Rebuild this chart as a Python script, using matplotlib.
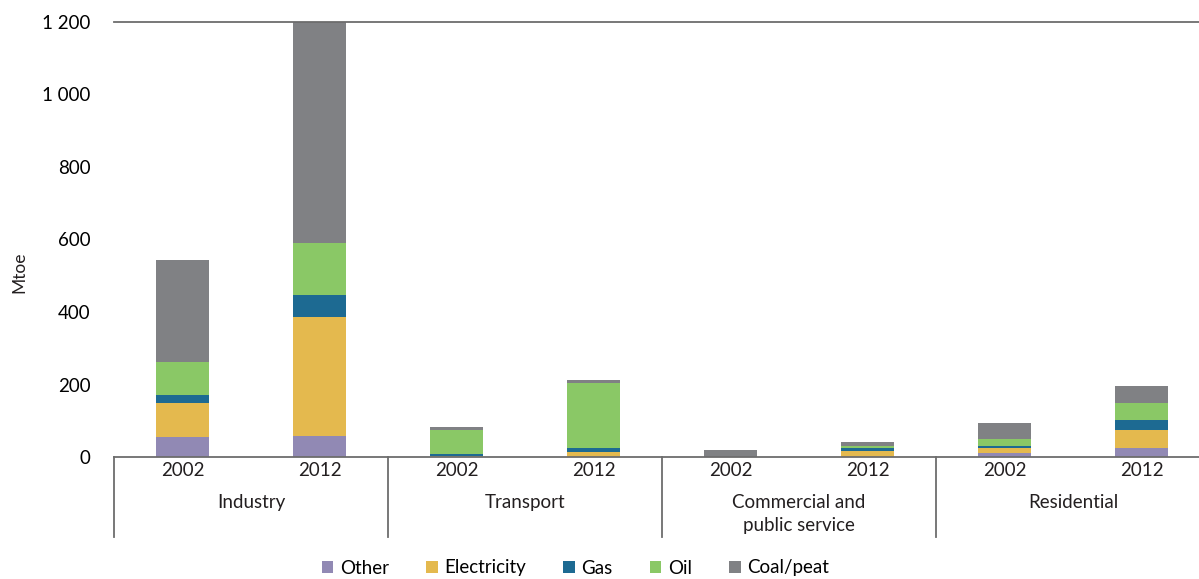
import matplotlib.pyplot as plt
import matplotlib.transforms as mtransforms
import numpy as np

plt.rcParams['font.family'] = ['Lato', 'DejaVu Sans']

sectors = ['Industry', 'Transport', 'Commercial and\npublic service', 'Residential']
years = ['2002', '2012']
fuels = ['Other', 'Electricity', 'Gas', 'Oil', 'Coal/peat']
colors = ['#9189b4', '#e4b94e', '#1d6a92', '#8ac866', '#808184']

# Mtoe, order: Ind 02, Ind 12, Tra 02, Tra 12, Com 02, Com 12, Res 02, Res 12
other = [55, 58, 1, 1, 0, 1, 10, 25]
electricity = [94, 328, 3, 13, 0, 16, 15, 49]
gas = [22, 61, 4, 11, 0, 9, 6, 28]
oil = [91, 143, 66, 179, 0, 5, 19, 47]
coal = [281, 620, 9, 8, 19, 10, 44, 47]
series = [other, electricity, gas, oil, coal]

W, H = 1199, 579
fig = plt.figure(figsize=(W / 100, H / 100), dpi=100)
ax = fig.add_axes([114 / W, 1 - 457 / H, 1096 / W, 435 / H])

x = np.arange(8)
bottom = np.zeros(8)
for name, vals, c in zip(fuels, series, colors):
    ax.bar(x, vals, width=0.39, bottom=bottom, color=c, label=name, zorder=2)
    bottom += np.array(vals)

ax.set_xlim(-0.5, 7.5)
ax.set_ylim(0, 1200)
ax.set_yticks(range(0, 1201, 200))
ax.set_yticklabels(['0', '200', '400', '600', '800', '1 000', '1 200'])
ax.tick_params(axis='y', length=0, pad=17, labelsize=13.5)
ax.tick_params(axis='x', length=0, labelbottom=False)
for s in ['left', 'right']:
    ax.spines[s].set_visible(False)
for s in ['top', 'bottom']:
    ax.spines[s].set_color('#6d6d6d')
    ax.spines[s].set_linewidth(1.3)
    ax.spines[s].set_zorder(3)

# y label placed directly on the figure
fig.text(19 / W, 1 - 272 / H, 'Mtoe', rotation=90, ha='center', va='center',
         fontsize=12.5, color='#231f20')

trans = mtransforms.blended_transform_factory(ax.transData, ax.transAxes)
for sep in [-0.5, 1.5, 3.5, 5.5]:
    ax.plot([sep, sep], [0, -80 / 435], transform=trans, color='#6d6d6d',
            lw=1.3, clip_on=False)
for i in range(8):
    ax.text(i, -14 / 435, years[i % 2], transform=trans, ha='center', va='center',
            fontsize=13.5, color='#231f20')
for j, name in enumerate(sectors):
    ax.text(2 * j + 0.5, -37 / 435, name, transform=trans, ha='center', va='top',
            fontsize=13.5, color='#231f20', linespacing=1.4)

fig.legend(loc='center', bbox_to_anchor=(0.48, 1 - 568 / H), ncol=5, frameon=False,
           fontsize=13.5, handlelength=0.6, handleheight=0.6, columnspacing=2.0,
           handletextpad=0.35, borderaxespad=0)

fig.savefig('out.png', dpi=100)
